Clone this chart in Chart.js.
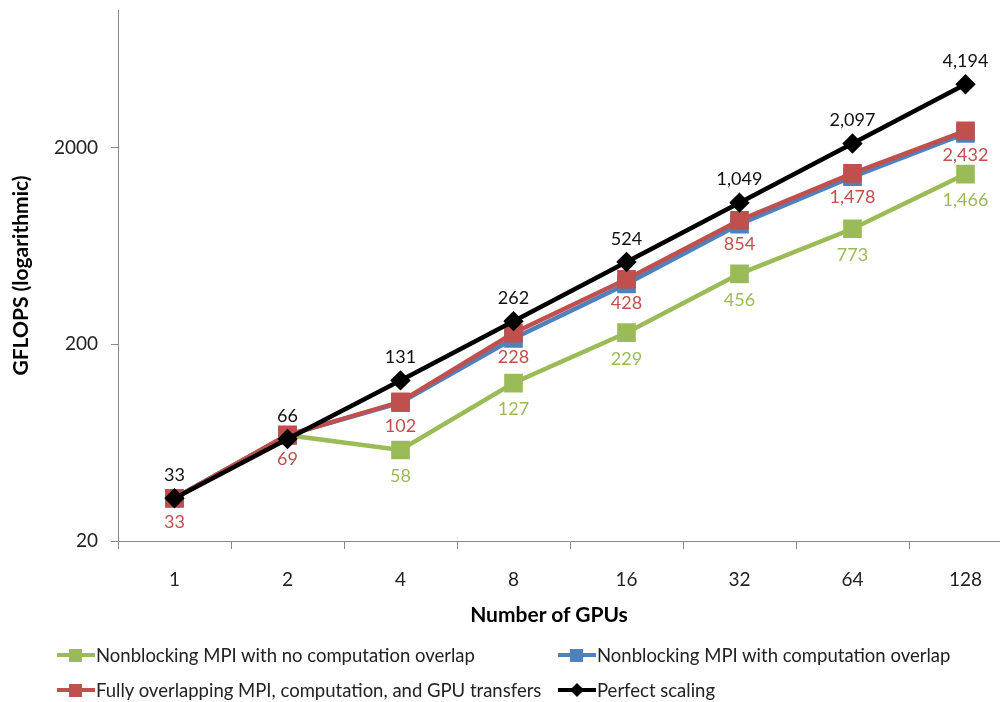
<!DOCTYPE html>
<html>
<head>
<meta charset="utf-8">
<script src="https://cdn.jsdelivr.net/npm/chart.js@4/dist/chart.umd.min.js"></script>
<style>
  html, body { margin: 0; padding: 0; background: #fff; overflow: hidden; width: 1000px; height: 702px; }
  #wrap { position: relative; width: 1024px; height: 702px; }
  canvas { position: absolute; left: 0; top: 0; }
  .leg { position: absolute; height: 20px; line-height: 20px; font-family: Lato, "Open Sans", sans-serif; font-size: 18.5px; color: #222; white-space: nowrap; display: flex; align-items: center; }
  .mk { position: relative; width: 38px; height: 14px; margin-right: 1px; }
  .mk .ln { position: absolute; left: 0; right: 0; top: 5px; height: 4px; }
  .mk .sq { position: absolute; left: 12px; top: 1px; width: 13px; height: 13px; }
  .mk .dm { position: absolute; left: 14px; top: 2px; width: 10px; height: 10px; transform: rotate(45deg); }
  #xtitle { position: absolute; left: 449px; width: 200px; top: 602px; text-align: center; font-family: Lato, "Open Sans", sans-serif; font-size: 21px; font-weight: bold; color: #000; line-height: 24px; }
</style>
</head>
<body>
<div id="wrap">
  <canvas id="c" width="1022" height="702"></canvas>
  <div id="xtitle">Number of GPUs</div>
  <div id="legend"></div>
</div>
<script>
const categories = ["1", "2", "4", "8", "16", "32", "64", "128"];
const seriesNames = [
  "Nonblocking MPI with no computation overlap",
  "Nonblocking MPI with computation overlap",
  "Fully overlapping MPI, computation, and GPU transfers",
  "Perfect scaling"
];
const noOverlap   = [33, 69, 58, 127, 229, 456, 773, 1466];
const withOverlap = [33, 69, 101, 214, 405, 815, 1420, 2360];
const fullOverlap = [33, 69, 102, 228, 428, 854, 1478, 2432];
const perfect     = [33, 66, 131, 262, 524, 1049, 2097, 4194];
const yTicks = [20, 200, 2000];
const noOverlapLabeled   = [false, false, true, true, true, true, true, true];
const fullOverlapLabeled = [true, true, true, true, true, true, true, true];
const perfectLabeled     = [true, true, true, true, true, true, true, true];

const colors = ["#9BBB59", "#4F81BD", "#C0504D", "#000000"];
const FONT = 'Lato, "Open Sans", sans-serif';

const labelPlugin = {
  id: 'pointLabels',
  afterDatasetsDraw(chart) {
    const ctx = chart.ctx;
    ctx.save();
    ctx.font = '18px ' + FONT;
    ctx.textAlign = 'center';
    ctx.textBaseline = 'middle';
    chart.data.datasets.forEach((ds, di) => {
      if (!ds.labelMode) return;
      const meta = chart.getDatasetMeta(di);
      meta.data.forEach((pt, i) => {
        if (!ds.labeled[i]) return;
        const txt = ds.data[i].toLocaleString('en-US');
        ctx.fillStyle = ds.labelColor;
        ctx.fillText(txt, pt.x, pt.y + ds.labelOffset);
      });
    });
    ctx.restore();
  }
};

const chart = new Chart(document.getElementById('c'), {
  type: 'line',
  data: {
    labels: categories,
    datasets: [
      { label: seriesNames[3], data: perfect, borderColor: colors[3], backgroundColor: colors[3],
        borderWidth: 4.5, pointStyle: 'rectRot', pointRadius: 7, pointHoverRadius: 7, order: 0,
        labelMode: 'above', labelOffset: -23, labeled: perfectLabeled, labelColor: '#111' },
      { label: seriesNames[2], data: fullOverlap, borderColor: colors[2], backgroundColor: colors[2],
        borderWidth: 4.5, pointStyle: 'rect', pointRadius: 10, pointHoverRadius: 10, order: 1,
        labelMode: 'below', labelOffset: 24, labeled: fullOverlapLabeled, labelColor: '#C0504D' },
      { label: seriesNames[1], data: withOverlap, borderColor: colors[1], backgroundColor: colors[1],
        borderWidth: 4.5, pointStyle: 'rect', pointRadius: 10, pointHoverRadius: 10, order: 2 },
      { label: seriesNames[0], data: noOverlap, borderColor: colors[0], backgroundColor: colors[0],
        borderWidth: 4.5, pointStyle: 'rect', pointRadius: 10, pointHoverRadius: 10, order: 3,
        labelMode: 'below', labelOffset: 26, labeled: noOverlapLabeled, labelColor: '#9BBB59' }
    ]
  },
  options: {
    responsive: false,
    animation: false,
    devicePixelRatio: 1,
    layout: { autoPadding: false, padding: { top: 10, left: 9, right: 0, bottom: 74 } },
    plugins: { legend: { display: false }, tooltip: { enabled: false } },
    elements: { line: { tension: 0 } },
    scales: {
      x: {
        type: 'category',
        offset: true,
        border: { color: '#888', width: 1 },
        grid: { offset: true, drawOnChartArea: false, tickLength: 8, color: '#888', tickColor: '#888' },
        ticks: { color: '#222', font: { family: FONT, size: 19 }, padding: 19, maxRotation: 0 },
        title: { display: false },
        afterFit(s) { s.height = 87; s.paddingLeft = 0; s.paddingRight = 0; }
      },
      y: {
        type: 'logarithmic',
        min: 20,
        max: 10000,
        border: { color: '#888', width: 1 },
        grid: { drawOnChartArea: false, tickLength: 7, color: '#888', tickColor: '#888' },
        ticks: { color: '#222', font: { family: FONT, size: 19 }, padding: 13, callback: v => String(v) },
        afterBuildTicks(s) { s.ticks = yTicks.map(v => ({ value: v })); },
        title: { display: true, text: 'GFLOPS (logarithmic)', color: '#000', font: { family: FONT, size: 21, weight: 'bold' }, padding: 0 },
        afterFit(s) { s.width = 109; s.paddingTop = 0; s.paddingBottom = 0; }
      }
    }
  },
  plugins: [labelPlugin]
});

// HTML legend
const legendPos = [
  { idx: 0, left: 57, top: 645 },
  { idx: 1, left: 558, top: 645 },
  { idx: 2, left: 57, top: 680 },
  { idx: 3, left: 558, top: 680 }
];
const legendEl = document.getElementById('legend');
legendPos.forEach(p => {
  const d = document.createElement('div');
  d.className = 'leg';
  d.style.left = p.left + 'px';
  d.style.top = p.top + 'px';
  const mk = document.createElement('div');
  mk.className = 'mk';
  const ln = document.createElement('div');
  ln.className = 'ln';
  ln.style.background = colors[p.idx];
  const pt = document.createElement('div');
  pt.className = p.idx === 3 ? 'dm' : 'sq';
  pt.style.background = colors[p.idx];
  mk.appendChild(ln); mk.appendChild(pt);
  const t = document.createElement('span');
  t.textContent = seriesNames[p.idx];
  d.appendChild(mk); d.appendChild(t);
  legendEl.appendChild(d);
});
</script>
</body>
</html>
